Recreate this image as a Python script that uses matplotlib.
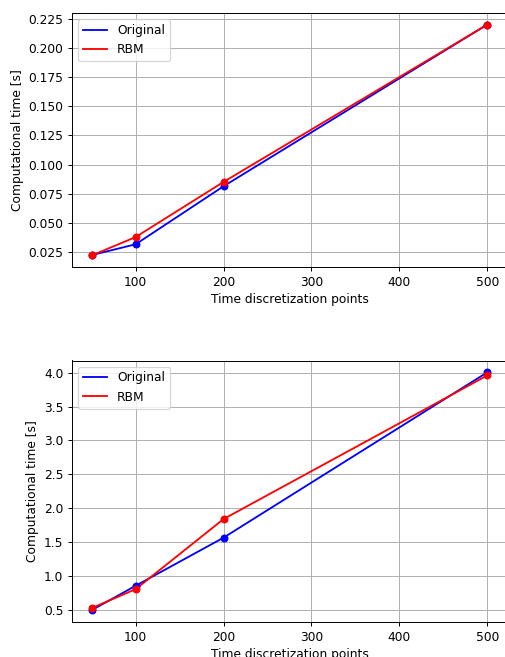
import matplotlib
matplotlib.use("Agg")
import matplotlib.pyplot as plt

n_points = [50, 100, 200, 500]

# small case
orig_small = [0.0225, 0.0318, 0.0815, 0.2200]
rbm_small = [0.0222, 0.0380, 0.0852, 0.2199]

# large case
orig_large = [0.495, 0.855, 1.565, 4.005]
rbm_large = [0.525, 0.805, 1.840, 3.960]

W, H = 505, 657
DPI = 88
fig = plt.figure(figsize=(W / DPI, H / DPI), dpi=DPI)

ax1 = fig.add_axes([72 / W, (H - 267) / H, (507 - 72) / W, (267 - 13) / H])
ax2 = fig.add_axes([72 / W, (H - 622) / H, (507 - 72) / W, (622 - 360.5) / H])

for ax, orig, rbm in [(ax1, orig_small, rbm_small), (ax2, orig_large, rbm_large)]:
    ax.plot(n_points, orig, "b-", label="Original")
    ax.plot(n_points, rbm, "r-", label="RBM")
    ax.plot(n_points, orig, "bo", markersize=5.5)
    ax.plot(n_points, rbm, "ro", markersize=5.5)
    ax.set_xlabel("Time discretization points")
    ax.set_ylabel("Computational time [s]")
    ax.grid(True)
    ax.legend(loc="upper left")

ax1.set_yticks([0.025, 0.05, 0.075, 0.1, 0.125, 0.15, 0.175, 0.2, 0.225])

fig.savefig("out.png", dpi=DPI)
